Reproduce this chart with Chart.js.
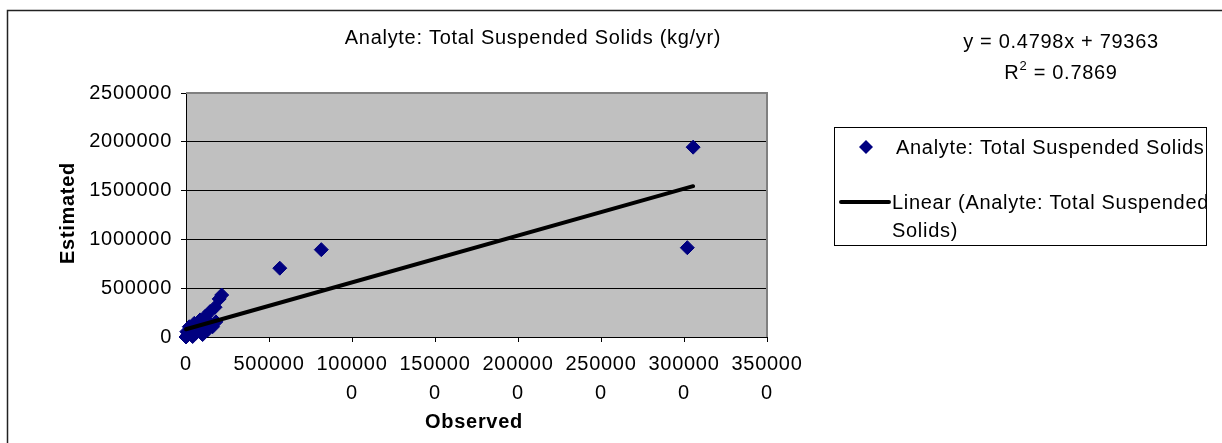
<!DOCTYPE html>
<html>
<head>
<meta charset="utf-8">
<title>Analyte: Total Suspended Solids (kg/yr)</title>
<script src="https://cdn.jsdelivr.net/npm/chart.js@4.4.1/dist/chart.umd.min.js"></script>
<style>
  html, body { margin: 0; padding: 0; background: #fff; }
  #wrap { position: relative; width: 1222px; height: 443px; }
</style>
</head>
<body>
<div id="wrap"><canvas id="tssChart" width="1222" height="443"></canvas></div>
<script>
const observed = [3055000, 3020000, 815000, 565000, 215000, 200000, 175000, 145000, 115000, 85000,
    160000, 180000, 130000, 100000, 60000, 50000, 20000, 40000, 5000, 10000,
    0, 25000, 70000, 110000, 140000, 90000];
const estimated = [1945000, 915000, 895000, 705000, 430000, 390000, 305000, 260000, 210000, 175000,
    105000, 155000, 72000, 25000, 40000, 140000, 105000, 5000, 55000, 20000,
    0, 30000, 90000, 120000, 140000, 60000];

// Linea de tendencia lineal (la que muestra Excel)
const trendSlope = 0.4798;
const trendIntercept = 79363;
const trendText = "y = 0.4798x + 79363";
const r2Text = "0.7869";

// Textos
const chartTitle = "Analyte: Total Suspended Solids (kg/yr)";
const seriesName = "Analyte: Total Suspended Solids";
const trendName = ["Linear (Analyte: Total Suspended", "Solids)"];
const xTitle = "Observed";
const yTitle = "Estimated";

// Ejes
const xMin = 0, xMax = 3500000, xStep = 500000;
const yMin = 0, yMax = 2500000, yStep = 500000;

const FONT = '"Liberation Sans", Arial, Helvetica, sans-serif';
const NAVY = "#000080";
const SPACING = "0.7px";

// Puntos extremos de la tendencia, desde el menor al mayor observado
const tMinX = Math.min(...observed);
const tMaxX = Math.max(...observed);
const trendPoints = [
    { x: tMinX, y: trendSlope * tMinX + trendIntercept },
    { x: tMaxX, y: trendSlope * tMaxX + trendIntercept }
];

const scatterPoints = observed.map((x, i) => ({ x: x, y: estimated[i] }));

function diamond(ctx, x, y, r) {
    ctx.beginPath();
    ctx.moveTo(x, y - r);
    ctx.lineTo(x + r, y);
    ctx.lineTo(x, y + r);
    ctx.lineTo(x - r, y);
    ctx.closePath();
    ctx.fill();
}

// Plugin para fondo, titulos, ecuacion y leyenda estilo Excel
const extras = {
    id: "extras",
    beforeDraw(chart) {
        const ctx = chart.ctx;
        ctx.letterSpacing = SPACING;
        const a = chart.chartArea;
        ctx.save();
        ctx.fillStyle = "#ffffff";
        ctx.fillRect(0, 0, chart.width, chart.height);
        ctx.fillStyle = "#c0c0c0";
        ctx.fillRect(a.left, a.top, a.right - a.left, a.bottom - a.top);
        ctx.restore();
    },
    beforeDatasetsDraw(chart) {
        const ctx = chart.ctx;
        const a = chart.chartArea;
        ctx.save();
        ctx.strokeStyle = "#808080";
        ctx.lineWidth = 2;
        ctx.beginPath();
        ctx.moveTo(a.left, a.top);
        ctx.lineTo(a.right, a.top);
        ctx.lineTo(a.right, a.bottom);
        ctx.stroke();
        ctx.restore();
    },
    afterDraw(chart) {
        const ctx = chart.ctx;
        ctx.save();
        ctx.letterSpacing = SPACING;

        // borde exterior (cortado a la derecha y abajo)
        ctx.strokeStyle = "#222";
        ctx.lineWidth = 1.5;
        ctx.beginPath();
        ctx.moveTo(7.5, 443);
        ctx.lineTo(7.5, 10.5);
        ctx.lineTo(1222, 10.5);
        ctx.stroke();

        ctx.fillStyle = "#000";
        ctx.textBaseline = "alphabetic";

        // titulo
        ctx.font = "20px " + FONT;
        ctx.textAlign = "center";
        ctx.fillText(chartTitle, 533, 44);

        // titulos de ejes
        ctx.font = "bold 20px " + FONT;
        ctx.fillText(xTitle, 474, 428);
        ctx.save();
        ctx.translate(74, 213);
        ctx.rotate(-Math.PI / 2);
        ctx.fillText(yTitle, 0, 0);
        ctx.restore();

        // ecuacion y R2
        ctx.font = "20px " + FONT;
        ctx.fillText(trendText, 1061, 48);
        const wR = ctx.measureText("R").width;
        const wRest = ctx.measureText(" = " + r2Text).width;
        ctx.font = "13px " + FONT;
        const w2 = ctx.measureText("2").width;
        const startX = 1061 - (wR + w2 + wRest) / 2;
        ctx.textAlign = "left";
        ctx.font = "20px " + FONT;
        ctx.fillText("R", startX, 79);
        ctx.font = "13px " + FONT;
        ctx.fillText("2", startX + wR, 70);
        ctx.font = "20px " + FONT;
        ctx.fillText(" = " + r2Text, startX + wR + w2, 79);

        // leyenda
        const bx = 834.5, by = 127.5, bw = 372, bh = 118;
        ctx.fillStyle = "#fff";
        ctx.fillRect(bx, by, bw, bh);
        ctx.strokeStyle = "#000";
        ctx.lineWidth = 1;
        ctx.strokeRect(bx, by, bw, bh);

        ctx.fillStyle = NAVY;
        diamond(ctx, 866, 147, 7);

        ctx.strokeStyle = "#000";
        ctx.lineWidth = 4;
        ctx.lineCap = "round";
        ctx.beginPath();
        ctx.moveTo(841, 202);
        ctx.lineTo(889, 202);
        ctx.stroke();

        ctx.save();
        ctx.beginPath();
        ctx.rect(bx, by, bw, bh);
        ctx.clip();
        ctx.fillStyle = "#000";
        ctx.font = "20px " + FONT;
        ctx.fillText(seriesName, 896, 154);
        ctx.fillText(trendName[0], 892, 209);
        ctx.fillText(trendName[1], 892, 237);
        ctx.restore();

        ctx.restore();
    }
};

const ctx = document.getElementById("tssChart").getContext("2d");

const tssChart = new Chart(ctx, {
    type: "scatter",
    data: {
        datasets: [
            {
                label: "Linear (" + seriesName + ")",
                data: trendPoints,
                showLine: true,
                borderColor: "#000",
                borderWidth: 4,
                borderCapStyle: "round",
                pointRadius: 0,
                clip: false,
                order: 0
            },
            {
                label: seriesName,
                data: scatterPoints,
                pointStyle: "rectRot",
                pointRadius: 7,
                pointBackgroundColor: NAVY,
                pointBorderColor: NAVY,
                pointBorderWidth: 1,
                clip: false,
                order: 1
            }
        ]
    },
    options: {
        responsive: false,
        animation: false,
        devicePixelRatio: 1,
        layout: {
            padding: { left: 0, right: 455, top: 93, bottom: 0 }
        },
        plugins: {
            legend: { display: false },
            tooltip: { enabled: false },
            title: { display: false }
        },
        scales: {
            x: {
                type: "linear",
                min: xMin,
                max: xMax,
                afterFit: s => { s.height = 106; },
                border: { display: true, color: "#000", width: 1 },
                grid: {
                    drawOnChartArea: false,
                    drawTicks: true,
                    tickLength: 5,
                    color: "#000"
                },
                ticks: {
                    stepSize: xStep,
                    autoSkip: false,
                    maxRotation: 0,
                    minRotation: 0,
                    padding: 8,
                    color: "#000",
                    font: { family: FONT, size: 20, lineHeight: "29px" },
                    // Excel parte las etiquetas largas en dos renglones
                    callback: v => {
                        const s = String(v);
                        return s.length > 6 ? [s.slice(0, 6), s.slice(6)] : s;
                    }
                }
            },
            y: {
                type: "linear",
                min: yMin,
                max: yMax,
                afterFit: s => { s.width = 186; },
                border: { display: true, color: "#000", width: 1 },
                grid: {
                    drawOnChartArea: true,
                    drawTicks: true,
                    tickLength: 5,
                    color: "#000",
                    lineWidth: 1
                },
                ticks: {
                    stepSize: yStep,
                    padding: 9,
                    color: "#000",
                    font: { family: FONT, size: 20 },
                    callback: v => String(v)
                }
            }
        }
    },
    plugins: [extras]
});
</script>
</body>
</html>
